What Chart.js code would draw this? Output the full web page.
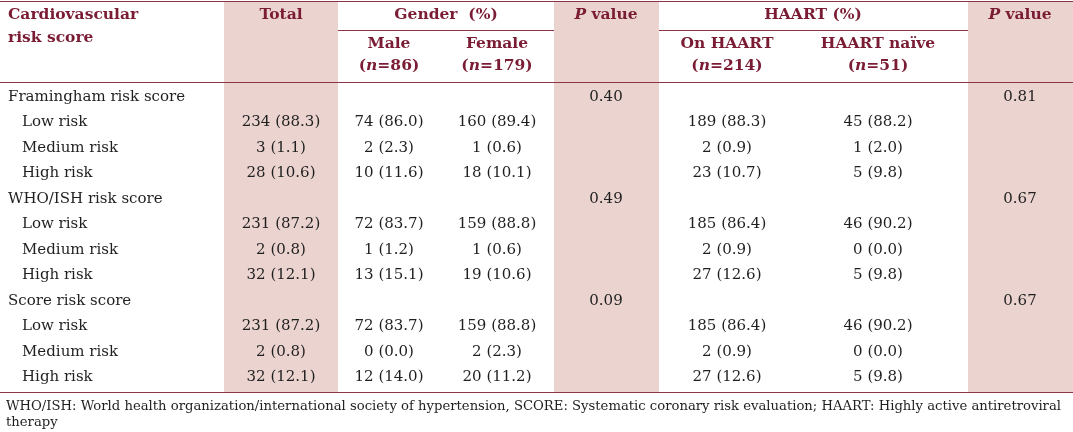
<!DOCTYPE html>
<html>
<head>
<meta charset="utf-8">
<script src="https://cdn.jsdelivr.net/npm/chart.js@4.4.1/dist/chart.umd.min.js"></script>
<style>
  html, body { margin: 0; padding: 0; background: #ffffff; }
  #wrap { width: 1073px; height: 432px; }
</style>
</head>
<body>
<div id="wrap"><canvas id="riskTable" width="1073" height="432"></canvas></div>
<script>
// --- Dados da tabela ---
const categories = ['Framingham risk score', 'WHO/ISH risk score', 'Score risk score'];
const riskLevels = ['Low risk', 'Medium risk', 'High risk'];

// um valor por linha de risco: Framingham (3), WHO/ISH (3), Score (3)
const totalN     = [234, 3, 28,   231, 2, 32,   231, 2, 32];
const totalPct   = [88.3, 1.1, 10.6,   87.2, 0.8, 12.1,   87.2, 0.8, 12.1];
const maleN      = [74, 2, 10,   72, 1, 13,   72, 0, 12];
const malePct    = [86.0, 2.3, 11.6,   83.7, 1.2, 15.1,   83.7, 0.0, 14.0];
const femaleN    = [160, 1, 18,   159, 1, 19,   159, 2, 20];
const femalePct  = [89.4, 0.6, 10.1,   88.8, 0.6, 10.6,   88.8, 2.3, 11.2];
const onHaartN   = [189, 2, 23,   185, 2, 27,   185, 2, 27];
const onHaartPct = [88.3, 0.9, 10.7,   86.4, 0.9, 12.6,   86.4, 0.9, 12.6];
const naiveN     = [45, 1, 5,   46, 0, 5,   46, 0, 5];
const naivePct   = [88.2, 2.0, 9.8,   90.2, 0.0, 9.8,   90.2, 0.0, 9.8];
const pGender    = [0.40, 0.49, 0.09];
const pHaart     = [0.81, 0.67, 0.67];

const footnote = [
    'WHO/ISH: World health organization/international society of hypertension, SCORE: Systematic coronary risk evaluation; HAART: Highly active antiretroviral',
    'therapy'
];

// --- Layout (unidades da escala = pixels) ---
const colX = { label: 8, indent: 22, total: 281, male: 389, female: 497, pGender: 606, onHaart: 727, naive: 878, pHaart: 1020 };
const shadedCols = [[224, 338], [554, 659], [968, 1073]];
const rowTop = 97, rowStep = 25.5;
const lines = { top: 1, sub: 30, head: 82, bottom: 392 };

const colors = {
    header: '#7a1c33',
    rule: '#8a3445',
    shade: '#ebd4d0',
    text: '#1f1f1f'
};
const FONT = '"DejaVu Serif", serif';

function fmt(n, p) { return n + ' (' + p.toFixed(1) + ')'; }
function rowY(i) { return rowTop + i * rowStep; }

// Células do corpo: {x, y, text, align}
function buildCells() {
    const cells = [];
    categories.forEach((cat, g) => {
        const base = g * 4;
        cells.push({ x: colX.label, y: rowY(base), text: cat, align: 'left' });
        cells.push({ x: colX.pGender, y: rowY(base), text: pGender[g].toFixed(2), align: 'center' });
        cells.push({ x: colX.pHaart, y: rowY(base), text: pHaart[g].toFixed(2), align: 'center' });
        riskLevels.forEach((lvl, k) => {
            const i = g * 3 + k, y = rowY(base + 1 + k);
            cells.push({ x: colX.indent, y, text: lvl, align: 'left' });
            cells.push({ x: colX.total, y, text: fmt(totalN[i], totalPct[i]), align: 'center' });
            cells.push({ x: colX.male, y, text: fmt(maleN[i], malePct[i]), align: 'center' });
            cells.push({ x: colX.female, y, text: fmt(femaleN[i], femalePct[i]), align: 'center' });
            cells.push({ x: colX.onHaart, y, text: fmt(onHaartN[i], onHaartPct[i]), align: 'center' });
            cells.push({ x: colX.naive, y, text: fmt(naiveN[i], naivePct[i]), align: 'center' });
        });
    });
    return cells;
}

// Cabeçalho: segmentos com itálico ([texto, italico])
const headerCells = [
    { x: colX.label, y: 15, align: 'left', seg: [['Cardiovascular', false]] },
    { x: colX.label, y: 38, align: 'left', seg: [['risk score', false]] },
    { x: colX.total, y: 15, align: 'center', seg: [['Total', false]] },
    { x: 446, y: 15, align: 'center', seg: [['Gender  (%)', false]] },
    { x: colX.pGender, y: 15, align: 'center', seg: [['P', true], [' value', false]] },
    { x: 813, y: 15, align: 'center', seg: [['HAART (%)', false]] },
    { x: colX.pHaart, y: 15, align: 'center', seg: [['P', true], [' value', false]] },
    { x: colX.male, y: 44, align: 'center', seg: [['Male', false]] },
    { x: colX.male, y: 66, align: 'center', seg: [['(', false], ['n', true], ['=86)', false]] },
    { x: colX.female, y: 44, align: 'center', seg: [['Female', false]] },
    { x: colX.female, y: 66, align: 'center', seg: [['(', false], ['n', true], ['=179)', false]] },
    { x: colX.onHaart, y: 44, align: 'center', seg: [['On HAART', false]] },
    { x: colX.onHaart, y: 66, align: 'center', seg: [['(', false], ['n', true], ['=214)', false]] },
    { x: colX.naive, y: 44, align: 'center', seg: [['HAART naïve', false]] },
    { x: colX.naive, y: 66, align: 'center', seg: [['(', false], ['n', true], ['=51)', false]] }
];

function drawSegments(ctx, seg, px, py, align, size) {
    const fontFor = it => (it ? 'italic ' : '') + 'bold ' + size + 'px ' + FONT;
    let width = 0;
    seg.forEach(s => { ctx.font = fontFor(s[1]); width += ctx.measureText(s[0]).width; });
    let cx = align === 'center' ? px - width / 2 : px;
    ctx.textAlign = 'left';
    seg.forEach(s => {
        ctx.font = fontFor(s[1]);
        ctx.fillText(s[0], cx, py);
        cx += ctx.measureText(s[0]).width;
    });
}

const tablePlugin = {
    id: 'tablePlugin',
    beforeDatasetsDraw(chart) {
        const { ctx, scales: { x, y } } = chart;
        ctx.save();
        // colunas sombreadas
        ctx.fillStyle = colors.shade;
        shadedCols.forEach(([a, b]) => {
            const x0 = x.getPixelForValue(a), x1 = x.getPixelForValue(b);
            const y0 = y.getPixelForValue(lines.top), y1 = y.getPixelForValue(lines.bottom);
            ctx.fillRect(x0, y0, x1 - x0, y1 - y0);
        });
        // linhas horizontais
        ctx.strokeStyle = colors.rule;
        ctx.lineWidth = 1.2;
        const hline = (x0, x1, yy) => {
            const py = Math.round(y.getPixelForValue(yy)) + 0.5;
            ctx.beginPath();
            ctx.moveTo(x.getPixelForValue(x0), py);
            ctx.lineTo(x.getPixelForValue(x1), py);
            ctx.stroke();
        };
        hline(0, 1073, lines.top);
        hline(338, 554, lines.sub);
        hline(659, 968, lines.sub);
        hline(0, 1073, lines.head);
        hline(0, 1073, lines.bottom);
        ctx.restore();
    },
    afterDatasetsDraw(chart) {
        const { ctx, scales: { x, y } } = chart;
        ctx.save();
        ctx.textBaseline = 'middle';
        // cabeçalho
        ctx.fillStyle = colors.header;
        headerCells.forEach(h => drawSegments(ctx, h.seg, x.getPixelForValue(h.x), y.getPixelForValue(h.y), h.align, 15.5));
        // corpo
        ctx.fillStyle = colors.text;
        ctx.font = '15px ' + FONT;
        chart.data.datasets[0].data.forEach(c => {
            ctx.textAlign = c.align;
            ctx.fillText(c.text, x.getPixelForValue(c.x), y.getPixelForValue(c.y));
        });
        // nota de rodapé
        ctx.font = '13.2px ' + FONT;
        ctx.textAlign = 'left';
        ctx.fillText(footnote[0], x.getPixelForValue(6), y.getPixelForValue(407));
        ctx.fillText(footnote[1], x.getPixelForValue(6), y.getPixelForValue(423));
        ctx.restore();
    }
};

new Chart(document.getElementById('riskTable'), {
    type: 'scatter',
    data: {
        datasets: [{
            label: 'cells',
            data: buildCells(),
            pointRadius: 0,
            pointHoverRadius: 0
        }]
    },
    options: {
        responsive: false,
        animation: false,
        layout: { padding: 0 },
        scales: {
            x: { type: 'linear', min: 0, max: 1073, display: false },
            y: { type: 'linear', min: 0, max: 432, reverse: true, display: false }
        },
        plugins: {
            legend: { display: false },
            tooltip: { enabled: false }
        }
    },
    plugins: [tablePlugin]
});
</script>
</body>
</html>
